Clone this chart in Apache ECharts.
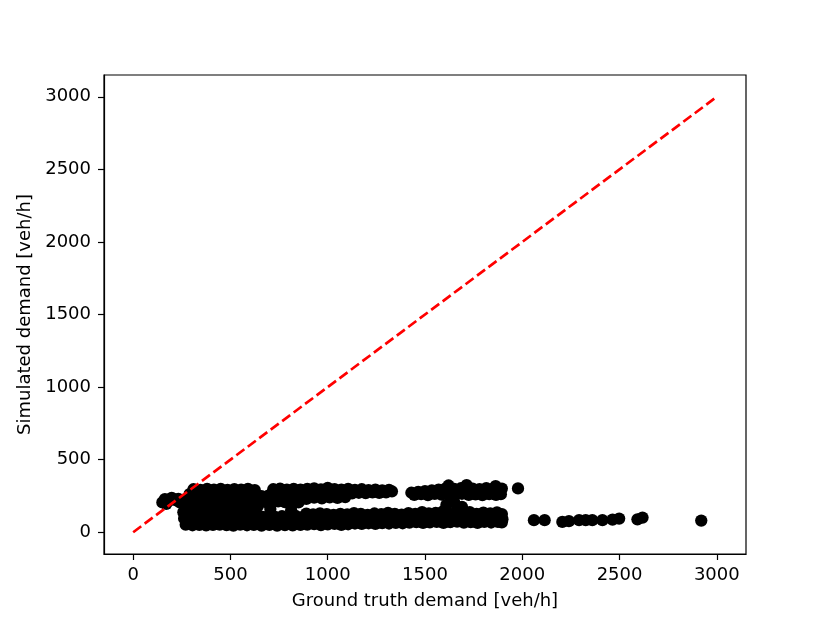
<!DOCTYPE html>
<html>
<head>
<meta charset="utf-8">
<script src="https://cdn.jsdelivr.net/npm/echarts@6/dist/echarts.min.js"></script>
<style>
  html, body { margin: 0; padding: 0; background: #fff; }
  #chart { width: 830px; height: 623px; }
</style>
</head>
<body>
<div id="chart"></div>
<script>
// ground truth [veh/h] vs simulated [veh/h], read off the picture by region
const leftBlob = [[150,205],[163,228],[180,214],[198,236],[215,222],[232,230],[240,205],[170,195]];

const mainBody = [
  [270,52],[305,48],[340,51],[375,47],[410,50],[445,53],[480,49],[515,46],[550,52],[585,48],[620,51],
  [262,95],[295,90],[330,93],[365,88],[400,94],[435,91],[470,96],[505,89],[540,92],[575,95],[610,90],[640,93],
  [258,138],[300,132],[340,136],[375,131],[410,137],[445,133],[480,135],[515,139],[550,132],[585,136],[620,134],
  [265,175],[295,180],[325,176],[360,181],[395,177],[430,179],[465,174],[500,180],[535,177],[570,182],[605,176],[640,179],
  [255,222],[300,218],[340,223],[375,217],[410,221],[445,219],[480,224],[515,216],[550,222],[585,218],[620,221],
  [290,262],[325,255],[360,259],[395,256],[430,261],[465,254],[500,258],[535,263],[570,257],[605,260],[640,250],
  [310,296],[345,292],[380,298],[415,294],[450,299],[485,291],[520,297],[555,293],[590,298],[625,290]
];

const midCluster = [
  [720,296],[755,300],[790,293],[825,298],[860,294],
  [660,248],[695,252],[730,258],[765,255],[800,261],[835,256],[868,259],
  [675,210],[710,205],[745,212],[780,207],[815,213],[850,206],
  [705,160],[812,152],
  [660,108],[695,112],[730,105],[765,110],[800,107],[835,113],[870,104],
  [675,72],[710,68],[745,75],[780,70],[815,73],[850,67],
  [660,46],[700,50],[740,45],[780,49],[820,47],[860,51]
];

const upperBand = [
  [895,298],[930,302],[965,295],[1000,305],[1035,297],[1070,293],[1105,299],[1140,291],[1175,296],[1210,290],[1245,294],[1280,288],[1315,292],
  [880,262],[915,258],[950,265],[985,257],[1020,262],[1055,255],[1090,260],[1125,268],[1160,272],[1195,270],[1230,274],[1265,271],[1300,275],[1330,282],
  [890,230],[930,238],[970,233],[1010,240],[1050,236],[1090,242],
  [1430,272],[1465,278],[1500,283],[1535,288],[1570,293],[1605,300],[1621,322],[1650,298],[1685,303],[1714,325],[1745,301],[1780,296],[1815,304],[1850,299],[1863,318],[1895,301],
  [1445,258],[1480,262],[1515,255],[1550,264],[1585,259],[1620,262],[1655,256],[1690,265],[1725,258],[1760,261],[1795,255],[1830,263],[1865,257],[1890,262],
  [1610,188],[1650,205],[1690,175],
  [1978,302]
];

const lowerBand = [
  [890,128],[925,122],[960,130],[995,125],[1030,119],[1065,127],[1100,123],[1135,131],[1170,126],[1205,120],[1240,129],[1275,124],[1310,133],[1345,127],[1380,121],
  [880,90],[915,86],[950,93],[985,88],[1020,95],[1055,84],[1090,91],[1125,87],[1160,94],[1195,89],[1230,85],[1265,92],[1300,88],[1335,95],[1370,86],
  [895,52],[930,56],[965,49],[1000,54],[1035,58],[1070,51],[1105,55],[1140,60],[1175,57],[1210,62],[1245,58],[1280,63],[1315,60],[1350,65],[1385,62],
  [1415,132],[1450,126],[1485,138],[1520,129],[1555,134],[1590,141],[1625,128],[1660,136],[1695,131],[1730,139],[1765,127],[1800,135],[1835,130],[1870,137],[1895,125],
  [1400,96],[1435,92],[1470,99],[1505,94],[1540,101],[1575,90],[1610,97],[1645,93],[1680,100],[1715,95],[1750,91],[1785,98],[1820,94],[1855,99],[1898,90],
  [1420,66],[1455,70],[1490,64],[1525,68],[1560,72],[1595,65],[1630,69],[1665,73],[1700,66],[1735,70],[1770,64],[1805,71],[1840,67],[1875,72],[1895,68]
];

const tailPoints = [[2060,83],[2115,83],[2206,71],[2240,76],[2292,83],[2326,83],[2360,83],[2412,83],
  [2464,87],[2498,94],[2592,89],[2618,101],[2920,80]];

const refLine = [[0,0],[3000,3000]];
const ticks = [0, 500, 1000, 1500, 2000, 2500, 3000];
const xName = 'Ground truth demand [veh/h]';
const yName = 'Simulated demand [veh/h]';

const points = [].concat(leftBlob, mainBody, midCluster, upperBand, lowerBand, tailPoints);

const FONT = 'DejaVu Sans';
const axisCommon = {
  type: 'value', min: -150, max: 3150,
  nameLocation: 'middle',
  nameTextStyle: { fontFamily: FONT, fontSize: 18, color: '#000' },
  axisLine: { show: true, onZero: false, lineStyle: { color: '#000', width: 1.2 } },
  axisTick: { show: true, length: 6, lineStyle: { color: '#000', width: 1.2 }, customValues: ticks },
  axisLabel: { fontFamily: FONT, fontSize: 18, color: '#000', customValues: ticks, formatter: v => String(v) },
  splitLine: { show: false }
};

const chart = echarts.init(document.getElementById('chart'), null, { renderer: 'canvas' });
chart.setOption({
  animation: false,
  backgroundColor: '#fff',
  grid: { left: 104, right: 84, top: 75, bottom: 69, show: true,
          borderColor: '#000', borderWidth: 1.2, backgroundColor: 'transparent' },
  xAxis: Object.assign({}, axisCommon, { name: xName, nameGap: 38,
    axisLabel: Object.assign({}, axisCommon.axisLabel, { margin: 12 }) }),
  yAxis: Object.assign({}, axisCommon, { name: yName, nameGap: 62,
    axisLabel: Object.assign({}, axisCommon.axisLabel, { margin: 13 }) }),
  series: [
    { type: 'scatter', data: points, symbolSize: 12.3, silent: true,
      itemStyle: { color: '#000', opacity: 1 }, z: 2 },
    { type: 'line', data: refLine, symbol: 'none', silent: true, z: 3,
      lineStyle: { color: '#ff0000', width: 2.7, type: [10, 4.3] } }
  ]
});
</script>
</body>
</html>
